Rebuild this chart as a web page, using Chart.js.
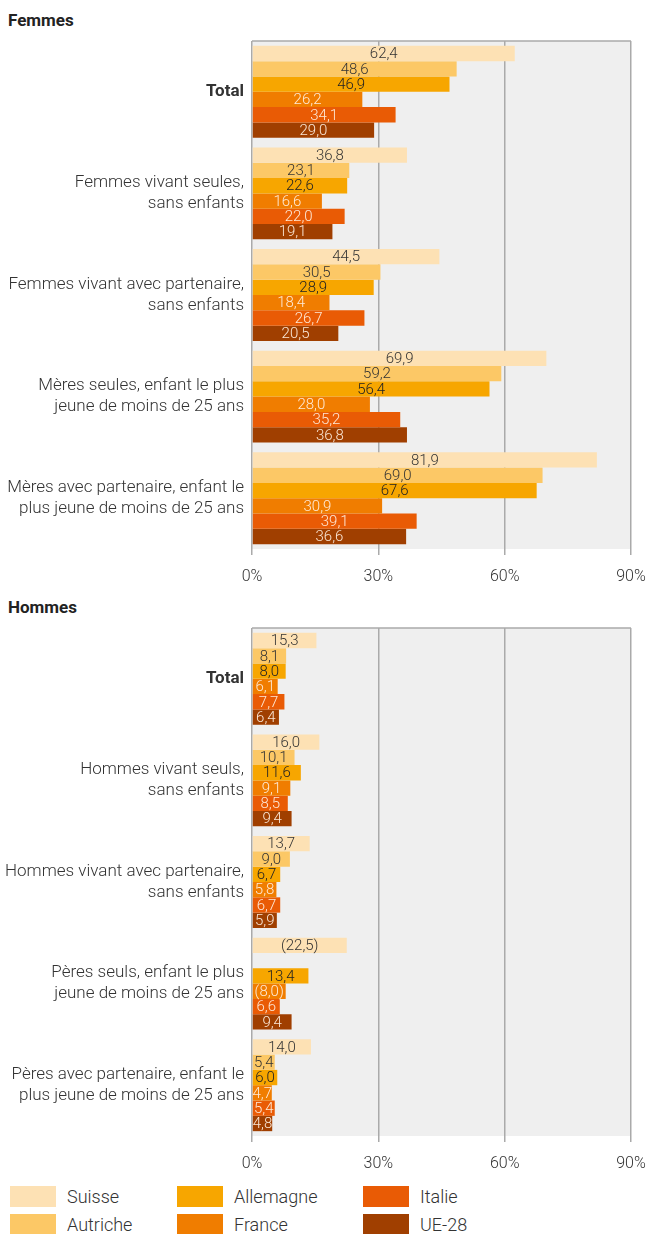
<!DOCTYPE html>
<html>
<head>
<meta charset="utf-8">
<script src="https://cdn.jsdelivr.net/npm/chart.js@4/dist/chart.umd.min.js"></script>
<style>
  body { margin: 0; background: #fff; font-family: Roboto, sans-serif; color: #333; }
  #page { position: relative; width: 650px; height: 1234px; }
  .title { position: absolute; left: 8px; font-weight: bold; font-size: 17px; color: #222; }
  .box { position: absolute; left: 0; width: 650px; height: 560px; }
  .legend { position: absolute; top: 1186px; left: 0; width: 650px; }
  .item { position: absolute; font-size: 18px; font-weight: 300; color: #333; line-height: 21px; }
  .item span { position: absolute; left: 0; top: 0; width: 46px; height: 21px; }
  .item b { font-weight: 300; position: absolute; left: 57px; top: 0; white-space: nowrap; }
</style>
</head>
<body>
<div id="page">
  <div class="title" style="top:10px">Femmes</div>
  <div class="box" style="top:35px"><canvas id="femmes"></canvas></div>
  <div class="title" style="top:597px">Hommes</div>
  <div class="box" style="top:622px"><canvas id="hommes"></canvas></div>
  <div class="legend" id="legend"></div>
</div>
<script>
// Countries and colours
const countries = ['Suisse', 'Autriche', 'Allemagne', 'France', 'Italie', 'UE-28'];
const colors = ['#FDE1B4', '#FCC866', '#F7A600', '#F07D00', '#E95B05', '#A03F00'];
const labelColors = ['#333', '#333', '#222', 'rgba(255,240,225,0.95)', 'rgba(255,240,225,0.95)', 'rgba(255,240,225,0.95)'];

// Category labels
const femmesCategories = [
    ['Total'],
    ['Femmes vivant seules,', 'sans enfants'],
    ['Femmes vivant avec partenaire,', 'sans enfants'],
    ['Mères seules, enfant le plus', 'jeune de moins de 25 ans'],
    ['Mères avec partenaire, enfant le', 'plus jeune de moins de 25 ans']
];
const hommesCategories = [
    ['Total'],
    ['Hommes vivant seuls,', 'sans enfants'],
    ['Hommes vivant avec partenaire,', 'sans enfants'],
    ['Pères seuls, enfant le plus', 'jeune de moins de 25 ans'],
    ['Pères avec partenaire, enfant le', 'plus jeune de moins de 25 ans']
];

// Femmes values (%), one array per country
const femmesSuisse    = [62.4, 36.8, 44.5, 69.9, 81.9];
const femmesAutriche  = [48.6, 23.1, 30.5, 59.2, 69.0];
const femmesAllemagne = [46.9, 22.6, 28.9, 56.4, 67.6];
const femmesFrance    = [26.2, 16.6, 18.4, 28.0, 30.9];
const femmesItalie    = [34.1, 22.0, 26.7, 35.2, 39.1];
const femmesUE28      = [29.0, 19.1, 20.5, 36.8, 36.6];

// Hommes values (%), one array per country
const hommesSuisse    = [15.3, 16.0, 13.7, 22.5, 14.0];
const hommesAutriche  = [8.1, 10.1, 9.0, null, 5.4];
const hommesAllemagne = [8.0, 11.6, 6.7, 13.4, 6.0];
const hommesFrance    = [6.1, 9.1, 5.8, 8.0, 4.7];
const hommesItalie    = [7.7, 8.5, 6.7, 6.6, 5.4];
const hommesUE28      = [6.4, 9.4, 5.9, 9.4, 4.8];

// Values shown in parentheses (low reliability): [country index, category index]
const hommesUncertain = [[0, 3], [3, 3]];

// X axis ticks
const xTicks = [0, 30, 60, 90];

function fmt(v) {
    return v.toFixed(1).replace('.', ',');
}

// Plot background and frame
const framePlugin = {
    id: 'frame',
    beforeDraw(chart) {
        const a = chart.chartArea;
        const ctx = chart.ctx;
        ctx.save();
        ctx.fillStyle = '#efefef';
        ctx.fillRect(a.left, a.top, a.right - a.left, a.bottom - a.top);
        ctx.restore();
    },
    afterDraw(chart) {
        const a = chart.chartArea;
        const ctx = chart.ctx;
        ctx.save();
        ctx.strokeStyle = '#aaa';
        ctx.lineWidth = 1.5;
        ctx.beginPath();
        ctx.moveTo(a.left, a.top);
        ctx.lineTo(a.right, a.top);
        ctx.stroke();
        ctx.restore();
    }
};

// Value labels centred on each bar
const valueLabelPlugin = {
    id: 'valueLabels',
    afterDatasetsDraw(chart, args, opts) {
        const ctx = chart.ctx;
        ctx.save();
        ctx.font = '300 15px Roboto';
        ctx.textAlign = 'center';
        ctx.textBaseline = 'middle';
        chart.data.datasets.forEach((ds, di) => {
            const meta = chart.getDatasetMeta(di);
            meta.data.forEach((bar, i) => {
                const v = ds.data[i];
                if (v === null || v === undefined) return;
                let txt = fmt(v);
                if ((opts.uncertain || []).some(u => u[0] === di && u[1] === i)) txt = '(' + txt + ')';
                ctx.fillStyle = labelColors[di];
                ctx.fillText(txt, (bar.base + bar.x) / 2, bar.y + 1);
            });
        });
        ctx.restore();
    }
};

function makeChart(id, categories, series, uncertain) {
    return new Chart(document.getElementById(id), {
        type: 'bar',
        data: {
            labels: categories,
            datasets: countries.map((c, i) => ({
                label: c,
                data: series[i],
                backgroundColor: colors[i],
                borderWidth: 0,
                barPercentage: 1,
                categoryPercentage: 0.905
            }))
        },
        options: {
            indexAxis: 'y',
            responsive: true,
            maintainAspectRatio: false,
            animation: false,
            layout: { padding: { top: 6, right: 19, left: 0, bottom: 0 } },
            plugins: {
                legend: { display: false },
                tooltip: { enabled: false },
                valueLabels: { uncertain: uncertain }
            },
            scales: {
                x: {
                    min: 0,
                    max: 90,
                    afterBuildTicks: (axis) => { axis.ticks = xTicks.map(v => ({ value: v })); },
                    ticks: {
                        callback: (v) => v + '%',
                        color: '#333',
                        font: { family: 'Roboto', size: 16, weight: '300' },
                        padding: 12,
                        maxRotation: 0
                    },
                    grid: { color: '#aaa', lineWidth: 1.5, tickLength: 6 },
                    border: { display: false },
                    afterFit: (axis) => {
                        axis.height = 46;
                        axis.paddingLeft = 0;
                        axis.paddingRight = 0;
                    }
                },
                y: {
                    ticks: {
                        color: '#333',
                        padding: 8,
                        font: (ctx) => ({
                            family: 'Roboto',
                            size: 17,
                            weight: ctx.index === 0 ? 'bold' : '300',
                            lineHeight: 1.25
                        })
                    },
                    grid: { display: false, drawTicks: false },
                    border: { display: false },
                    afterFit: (axis) => {
                        axis.width = 252;
                        axis.paddingTop = 0;
                        axis.paddingBottom = 0;
                    }
                }
            }
        },
        plugins: [framePlugin, valueLabelPlugin]
    });
}

makeChart('femmes', femmesCategories,
    [femmesSuisse, femmesAutriche, femmesAllemagne, femmesFrance, femmesItalie, femmesUE28], []);
makeChart('hommes', hommesCategories,
    [hommesSuisse, hommesAutriche, hommesAllemagne, hommesFrance, hommesItalie, hommesUE28], hommesUncertain);

// Legend: three columns, filled column by column
const legendCols = [10, 177, 363];
const legend = document.getElementById('legend');
countries.forEach((c, i) => {
    const item = document.createElement('div');
    item.className = 'item';
    item.style.left = legendCols[Math.floor(i / 2)] + 'px';
    item.style.top = (i % 2) * 28 + 'px';
    item.innerHTML = '<span style="background:' + colors[i] + '"></span><b>' + c + '</b>';
    legend.appendChild(item);
});
</script>
</body>
</html>
